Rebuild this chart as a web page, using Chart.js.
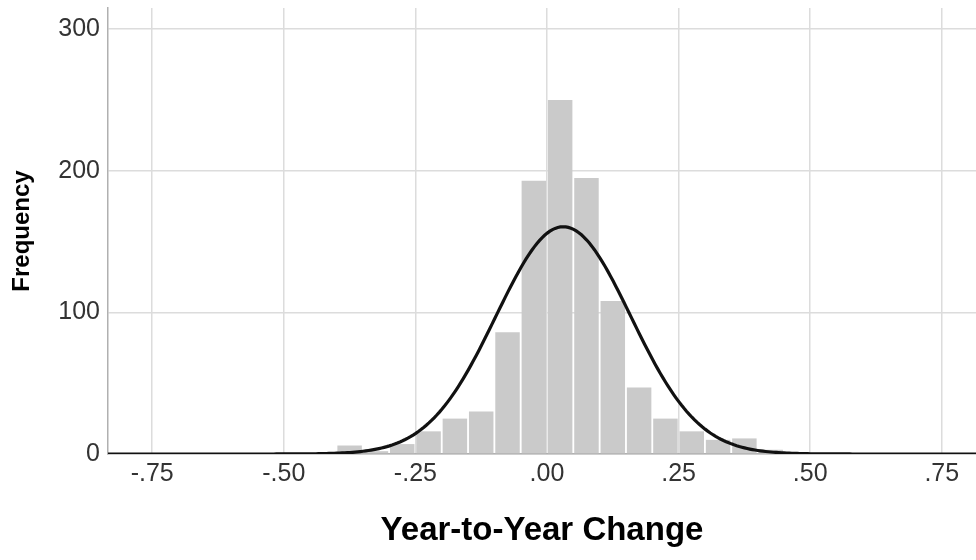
<!DOCTYPE html>
<html>
<head>
<meta charset="utf-8">
<script src="https://cdn.jsdelivr.net/npm/chart.js@4"></script>
<style>
  html, body { margin: 0; padding: 0; background: #ffffff; }
  #wrap { width: 976px; height: 560px; position: relative; }
</style>
</head>
<body>
<div id="wrap"><canvas id="hist"></canvas></div>
<script>
// Histogram bins (width .05): centre of each bin and its frequency
const binWidth = 0.05;
const binCenters = [-0.375, -0.325, -0.275, -0.225, -0.175, -0.125, -0.075, -0.025,
                     0.025,  0.075,  0.125,  0.175,  0.225,  0.275,  0.325,  0.375, 0.425];
const counts     = [6, 2, 7, 16, 25, 30, 86, 193,
                    250, 195, 108, 47, 25, 16, 10, 11, 3];

// Axis ticks
const xTickValues = [-0.75, -0.50, -0.25, 0.00, 0.25, 0.50, 0.75];
const xTickLabels = ['-.75', '-.50', '-.25', '.00', '.25', '.50', '.75'];
const yTickValues = [0, 100, 200, 300];

// Fitted normal curve parameters
const curveMean = 0.031;
const curveSd = 0.128;
const curveN = counts.reduce((a, b) => a + b, 0);

const xMin = -0.834, xMax = 0.815, yMax = 315;

const barData = binCenters.map((c, i) => ({ x: c, y: counts[i] }));

// Normal density scaled to frequency per bin, sampled across the axis
const curveData = [];
const steps = 330;
for (let i = 0; i <= steps; i++) {
  const x = xMin + (xMax - xMin) * i / steps;
  const z = (x - curveMean) / curveSd;
  const y = curveN * binWidth * Math.exp(-0.5 * z * z) / (curveSd * Math.sqrt(2 * Math.PI));
  curveData.push({ x, y });
}

const FONT = "'Liberation Sans', Arial, Helvetica, sans-serif";

new Chart(document.getElementById('hist'), {
  data: {
    datasets: [
      {
        type: 'line',
        data: curveData,
        borderColor: '#111111',
        borderWidth: 3.2,
        pointRadius: 0,
        tension: 0,
        order: 0
      },
      {
        type: 'bar',
        data: barData,
        backgroundColor: '#cacaca',
        borderWidth: 0,
        barPercentage: 1,
        categoryPercentage: 0.93,
        order: 1
      }
    ]
  },
  options: {
    responsive: true,
    maintainAspectRatio: false,
    animation: false,
    layout: { padding: { top: 8, right: 0, left: 0, bottom: 0 } },
    plugins: { legend: { display: false }, tooltip: { enabled: false } },
    scales: {
      x: {
        type: 'linear',
        min: xMin,
        max: xMax,
        offset: false,
        afterFit(scale) {
          scale.height = 106;
          scale.paddingLeft = 0;
          scale.paddingRight = 0;
        },
        afterBuildTicks(scale) { scale.ticks = xTickValues.map(v => ({ value: v })); },
        grid: { color: '#dcdcdc', lineWidth: 1.5, drawTicks: false, offset: false },
        border: { display: true, color: '#b0b0b0', width: 1.5 },
        ticks: {
          padding: 5,
          color: '#333333',
          font: { family: FONT, size: 25 },
          maxRotation: 0,
          autoSkip: false,
          callback: (v) => {
            const i = xTickValues.findIndex(t => Math.abs(t - v) < 1e-9);
            return i >= 0 ? xTickLabels[i] : '';
          }
        },
        title: {
          display: true,
          text: 'Year-to-Year Change',
          color: '#000000',
          font: { family: FONT, size: 33, weight: 'bold' },
          padding: { top: 20, bottom: 9 }
        }
      },
      y: {
        type: 'linear',
        min: 0,
        max: yMax,
        afterFit(scale) {
          scale.width = 108;
          scale.paddingTop = 0;
          scale.paddingBottom = 0;
        },
        afterBuildTicks(scale) { scale.ticks = yTickValues.map(v => ({ value: v })); },
        grid: { color: '#dcdcdc', lineWidth: 1.5, drawTicks: false },
        border: { display: true, color: '#b0b0b0', width: 1.5 },
        ticks: {
          padding: 8,
          color: '#333333',
          font: { family: FONT, size: 25 }
        },
        title: {
          display: true,
          text: 'Frequency',
          color: '#000000',
          font: { family: FONT, size: 24, weight: 'bold' },
          padding: { top: 8, bottom: 0 }
        }
      }
    }
  }
});
</script>
</body>
</html>
